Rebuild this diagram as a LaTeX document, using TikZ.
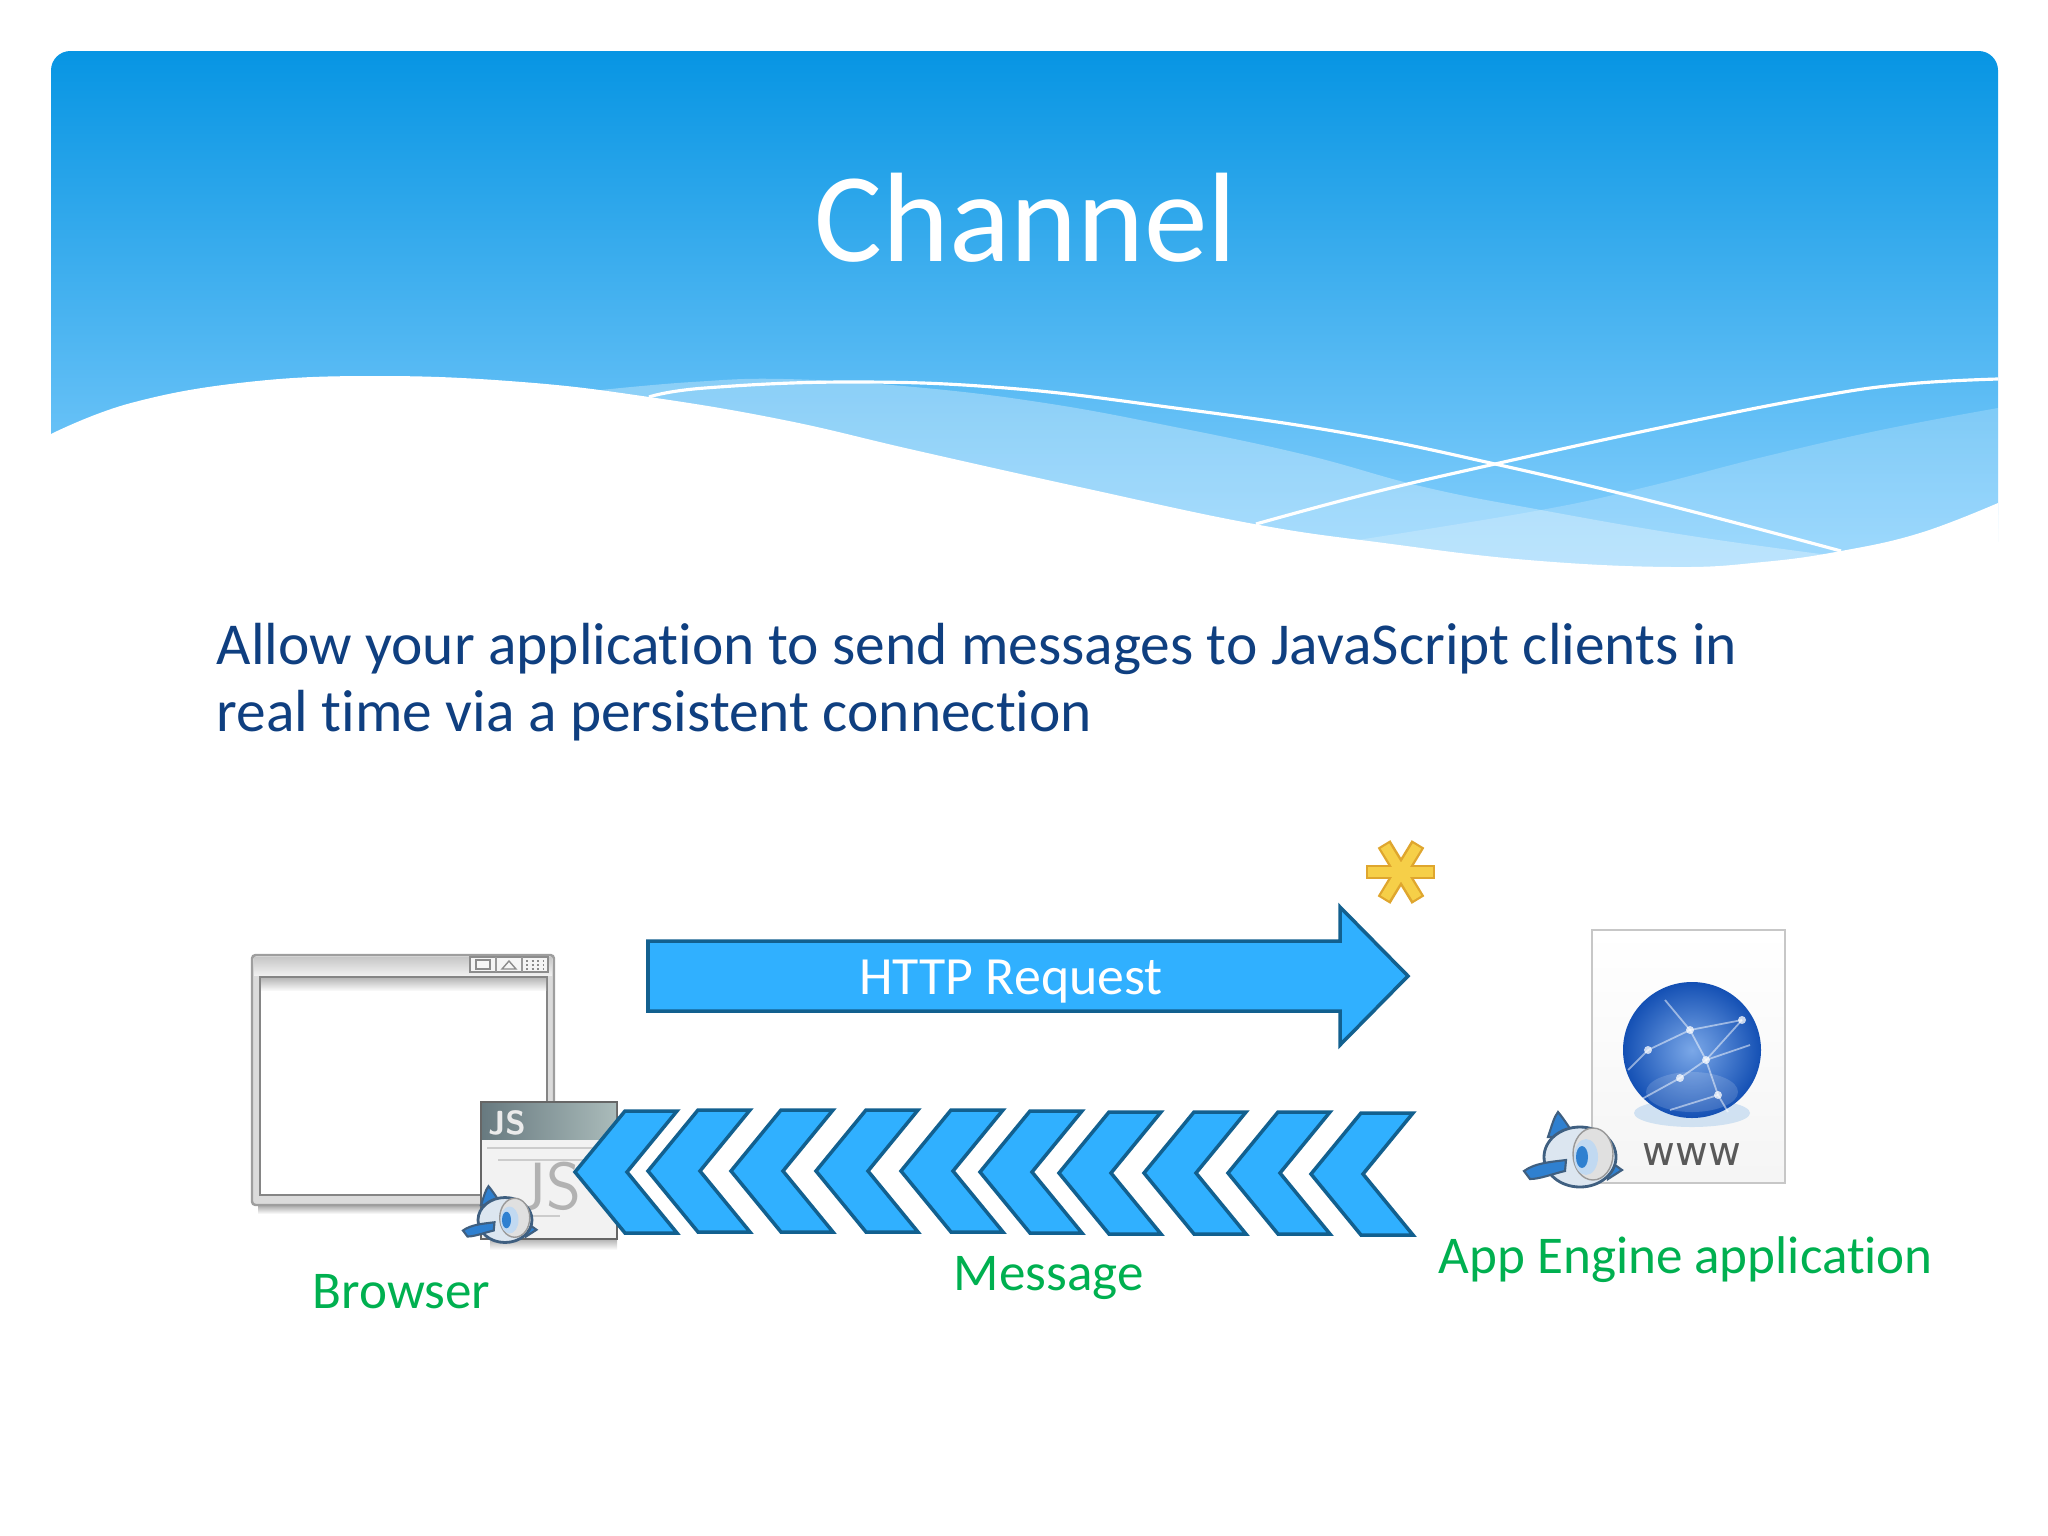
\documentclass[tikz,border=0pt]{standalone}
\usepackage{fontspec}
\setmainfont[Ligatures=NoCommon]{Carlito}
\newfontfamily\wwwfont{DejaVu Sans}
\usetikzlibrary{arrows.meta}
\definecolor{headtop}{HTML}{0795E3}
\definecolor{headbot}{HTML}{90D4FF}
\definecolor{arrowfill}{HTML}{30B0FF}
\definecolor{arrowline}{HTML}{12608F}
\definecolor{bodyblue}{HTML}{0F3F80}
\definecolor{labelgreen}{HTML}{00B050}
\definecolor{jetblue}{HTML}{2F80D0}
\definecolor{jetline}{HTML}{3F5F80}
\definecolor{jetbody}{HTML}{DCE6F0}
\definecolor{goldlight}{HTML}{F6CF48}
\definecolor{golddark}{HTML}{DFA62E}
\definecolor{jsleft}{HTML}{687A80}
\definecolor{jsright}{HTML}{AABBBA}
\definecolor{globein}{HTML}{7BA8E8}
\definecolor{globeout}{HTML}{1450B4}
\tikzset{
  arrowbox/.style={draw=arrowline,fill=arrowfill,line width=1pt,line join=miter},
  labeltext/.style={text=labelgreen,anchor=base west,inner sep=0pt,font=\fontsize{15.1}{18}\selectfont},
  bodytext/.style={text=bodyblue,anchor=base west,inner sep=0pt,font=\fontsize{16.9}{20}\selectfont},
  waveline/.style={draw=white,line width=.9pt},
  jet/.pic={
    \draw[jetline,fill=jetblue,line width=.6pt] (-32,-20) .. controls (-28,-32) and (-26,-40) .. (-22,-45) .. controls (-16,-38) and (-10,-28) .. (-4,-20) -- cycle;
    \draw[jetline,fill=jetblue,line width=.6pt] (28,3) -- (42,13) -- (28,22) -- cycle;
    \draw[jetline,fill=jetbody,line width=.8pt] (0,0) ellipse (36 and 30);
    \draw[black!40,fill=black!12,line width=.4pt] (13,-3) ellipse (20 and 26);
    \fill[white!70!jetblue] (6,0) ellipse (12 and 18);
    \fill[jetblue] (2,0) ellipse (6 and 11);
    \draw[jetline,fill=jetblue,line width=.6pt] (-56,14) .. controls (-45,6) and (-30,5) .. (-14,3) -- (-15,14) .. controls (-28,17) and (-40,22) .. (-50,22) -- cycle;
  }
}
\begin{document}
\begin{tikzpicture}[x=0.01cm,y=-0.01cm]
  \useasboundingbox (0,0) rectangle (2048,1536);
  \shade[top color=headtop,bottom color=headbot,rounded corners=5.5pt] (51,51) rectangle (1998,600);
  \fill[white,opacity=.3] plot[smooth,tension=.7] coordinates {(601,390) (692,382) (784,379) (914,387) (1045,403) (1175,427) (1306,455) (1424,487) (1541,510) (1685,535) (1828,555)} -- (1828,590) -- (601,590) -- cycle;
  \fill[white,opacity=.2] plot[smooth,tension=.7] coordinates {(1358,540) (1541,510) (1646,487) (1763,457) (1881,430) (1998,408)} -- (1998,590) -- (1358,590) -- cycle;
  \draw[waveline] plot[smooth,tension=.7] coordinates {(649,397) (705,388) (849,382) (1006,388) (1175,408) (1345,433) (1495,464) (1659,503) (1841,551)};
  \draw[waveline] plot[smooth,tension=.7] coordinates {(1256,524) (1371,493) (1495,464) (1659,428) (1815,397) (1907,384) (1998,379)};
  \fill[white] plot[smooth,tension=.7] coordinates {(51,434) (131,403) (248,382) (379,376) (522,382) (649,397) (784,420) (914,450) (1084,488) (1254,524) (1384,543) (1528,560) (1672,567) (1763,562) (1841,551) (1920,533) (1998,503)} -- (2000,610) -- (49,610) -- cycle;

  \node[text=white,anchor=base west,inner sep=0pt,font=\fontsize{36.2}{40}\selectfont] (title) at (814,261) {Channel};
  \node[bodytext] (lineone) at (216,664) {Allow your application to send messages to JavaScript clients in};
  \node[bodytext] (linetwo) at (216,731) {real time via a persistent connection};

  \shade[top color=black!35,bottom color=white] (258,1205) rectangle (550,1214);
  \draw[black!38,fill=black!14,line width=.7pt,rounded corners=1pt] (252,955) rectangle (554,1205);
  \shade[top color=black!22,bottom color=black!6] (254,957) rectangle (552,975);
  \draw[black!48,fill=white,line width=.7pt] (260,977) rectangle (547,1195);
  \shade[top color=black!28,bottom color=black!3] (261,978) rectangle (546,990);
  \draw[black!45,fill=black!4,line width=.4pt] (470,957) rectangle (548,972);
  \foreach \btnx in {496,522} \draw[black!40,line width=.4pt] (\btnx,957) -- (\btnx,972);
  \draw[black!45,line width=.4pt] (476,960) rectangle (490,969);
  \draw[black!45,line width=.4pt] (502,969) -- (509,961) -- (516,969) -- cycle;
  \draw[black!45,line width=.6pt,densely dotted] (526,961) -- (544,961) (526,965) -- (544,965) (526,969) -- (544,969);

  \shade[top color=black!30,bottom color=white] (490,1239) rectangle (617,1250);
  \draw[black!60,fill=black!5,line width=.6pt] (481,1102) rectangle (617,1239);
  \shade[left color=jsleft,right color=jsright] (482,1103) rectangle (616,1139);
  \node[text=black!8,inner sep=0pt,font=\sffamily\bfseries\fontsize{9.5}{10}\selectfont] (jshead) at (507,1123) {JS};
  \draw[black!20,line width=.8pt] (487,1148) -- (600,1148) (498,1160) -- (590,1160) (520,1216) -- (560,1216);
  \node[text=black!30,inner sep=0pt,font=\sffamily\fontsize{19}{20}\selectfont] (jsbig) at (549,1186) {JS};

  \foreach \tipx/\tipy in {575/1172,648/1171,731/1171,816/1171,901/1171,980/1172,1059/1173,1144/1173,1228/1173,1311/1174}
    \draw[arrowbox] (\tipx,\tipy) -- ++(50,-61) -- ++(52,0) -- ++(-50,61) -- ++(50,61) -- ++(-52,0) -- cycle;
  \pic[scale=.75] at (505,1220) {jet};

  \draw[arrowbox] (648,941) -- (1340,941) -- (1340,907) -- (1408,976) -- (1340,1045) -- (1340,1011) -- (648,1011) -- cycle;
  \node[text=white,inner sep=0pt,font=\fontsize{15.3}{18}\selectfont] (http) at (1011,982) {HTTP Request};

  \foreach \barx/\bary/\barp/\barq in {1366/872/1435/872,1384/844/1418/900,1418/844/1384/900}
    \draw[golddark,line width=4.2pt] (\barx,\bary) -- (\barp,\barq);
  \foreach \barx/\bary/\barp/\barq in {1368/872/1433/872,1385/846/1417/898,1417/846/1385/898}
    \draw[goldlight,line width=2.8pt] (\barx,\bary) -- (\barp,\barq);

  \shade[top color=white,bottom color=black!4,draw=black!22,line width=.5pt] (1592,930) rectangle (1785,1183);
  \fill[jetblue!35,opacity=.6] (1692,1113) ellipse (58 and 14);
  \shade[inner color=globein,outer color=globeout] (1692,1050) circle [x radius=69,y radius=68];
  \fill[white,opacity=.15] (1692,1092) ellipse (46 and 20);
  \foreach \ax/\ay/\bx/\by in {1665/1000/1690/1030,1690/1030/1706/1060,1706/1060/1718/1095,1718/1095/1728/1112,1648/1050/1690/1030,1690/1030/1742/1020,1742/1020/1706/1060,1706/1060/1680/1078,1680/1078/1640/1100,1648/1050/1628/1070,1718/1095/1670/1110,1706/1060/1750/1045}
    \draw[white,opacity=.5,line width=.5pt] (\ax,\ay) -- (\bx,\by);
  \foreach \dotx/\doty in {1690/1030,1648/1050,1706/1060,1680/1078,1742/1020,1718/1095}
    \fill[white,opacity=.75] (\dotx,\doty) circle (4);
  \node[text=black!65,inner sep=0pt,font=\wwwfont\fontsize{11.4}{13}\selectfont] (www) at (1692,1155) {www};
  \pic at (1580,1157) {jet};

  \node[labeltext] (browser) at (312,1308) {Browser};
  \node[labeltext] (message) at (953,1290) {Message};
  \node[labeltext] (appengine) at (1438,1273) {App Engine application};
\end{tikzpicture}
\end{document}
